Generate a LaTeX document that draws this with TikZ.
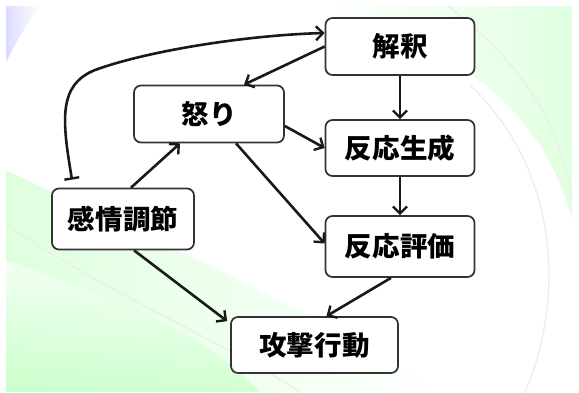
\documentclass[tikz,border=0pt]{standalone}
\usepackage{fontspec}
\newfontfamily\jp{Noto Sans CJK JP}
\usetikzlibrary{arrows.meta,calc,shadings}
\tikzset{
  box/.style={draw=black!80, line width=1.7pt, rounded corners=7pt, fill=white,
    inner sep=0pt, font=\jp\bfseries\fontsize{27}{27}\selectfont},
  mytip/.tip={Straight Barb[length=7pt,width=14pt,line width=2.4pt]},
  mybar/.tip={Bar[width=15pt,line width=2.4pt]},
  arr/.style={draw=black!90, line width=2.6pt, -{mytip}},
  swoosh/.style={draw=gray!15, line width=1.2pt},
}
\newcommand{\jt}[1]{\scalebox{1.02}[1]{#1}}
\begin{document}
\begin{tikzpicture}[x=1pt,y=-1pt]
\useasboundingbox (0,0) rectangle (579,392);
% background
\fill[white] (0,0) rectangle (579,392);
\shade[left color=green!18, right color=white, opacity=0.7]
  (6,170) .. controls (150,240) and (300,300) .. (440,392) -- (6,392) -- cycle;
\shade[top color=white, bottom color=green!25, opacity=0.6]
  (6,260) .. controls (120,300) and (200,330) .. (260,392) -- (6,392) -- cycle;
\shade[left color=white, right color=green!12]
  (320,6) .. controls (450,40) and (545,110) .. (572,220) -- (572,6) -- cycle;
\shade[left color=blue!14, right color=white] (6,6) -- (40,6) .. controls (25,25) and (15,45) .. (6,62) -- cycle;
\draw[swoosh] (6,225) .. controls (120,300) and (220,340) .. (300,392);
\draw[swoosh] (470,85) .. controls (560,170) and (565,300) .. (525,392);
\draw[swoosh] (440,0) .. controls (520,60) and (560,120) .. (572,200);
\fill[white] (0,0) rectangle (579,6);
\fill[white] (0,0) rectangle (6,392);
\fill[white] (572,0) rectangle (579,392);
% nodes
\node[box, minimum width=149pt, minimum height=57pt] (interp) at (400,46.5) {\jt{解釈}};
\node[box, minimum width=150pt, minimum height=57pt] (anger) at (209,114) {\jt{怒り}};
\node[box, minimum width=149pt, minimum height=56pt] (gen) at (400,148) {\jt{反応生成}};
\node[box, minimum width=142pt, minimum height=61pt] (reg) at (123,219) {\jt{感情調節}};
\node[box, minimum width=149pt, minimum height=61pt] (eval) at (400,246.5) {\jt{反応評価}};
\node[box, minimum width=167pt, minimum height=56pt] (attack) at (314.5,345) {\jt{攻撃行動}};
% coordinates
\coordinate (tail) at ([xshift=-51pt,yshift=8pt]reg.north);
\coordinate (head) at ([yshift=13.5pt]interp.west);
% connectors
\draw[arr, {mybar}-{mytip}]
  (tail) .. controls (62,120) and (58,85) .. (95,70) .. controls (150,50) and (250,35) .. (head);
\draw[arr] (interp.west) -- ([xshift=35pt]anger.north);
\draw[arr] (interp.south) -- (gen.north);
\draw[arr] ([yshift=-12pt]anger.east) -- (gen.west);
\draw[arr] ([xshift=27pt]anger.south) -- ([yshift=3pt]eval.west);
\draw[arr] ([xshift=8pt]reg.north) -- ([xshift=-29pt]anger.south);
\draw[arr] (gen.south) -- (eval.north);
\draw[arr] ([xshift=11pt]reg.south) -- ([xshift=-3pt,yshift=-5pt]attack.north west);
\draw[arr] ([xshift=-9pt]eval.south) -- ([xshift=12pt]attack.north);
\end{tikzpicture}
\end{document}
